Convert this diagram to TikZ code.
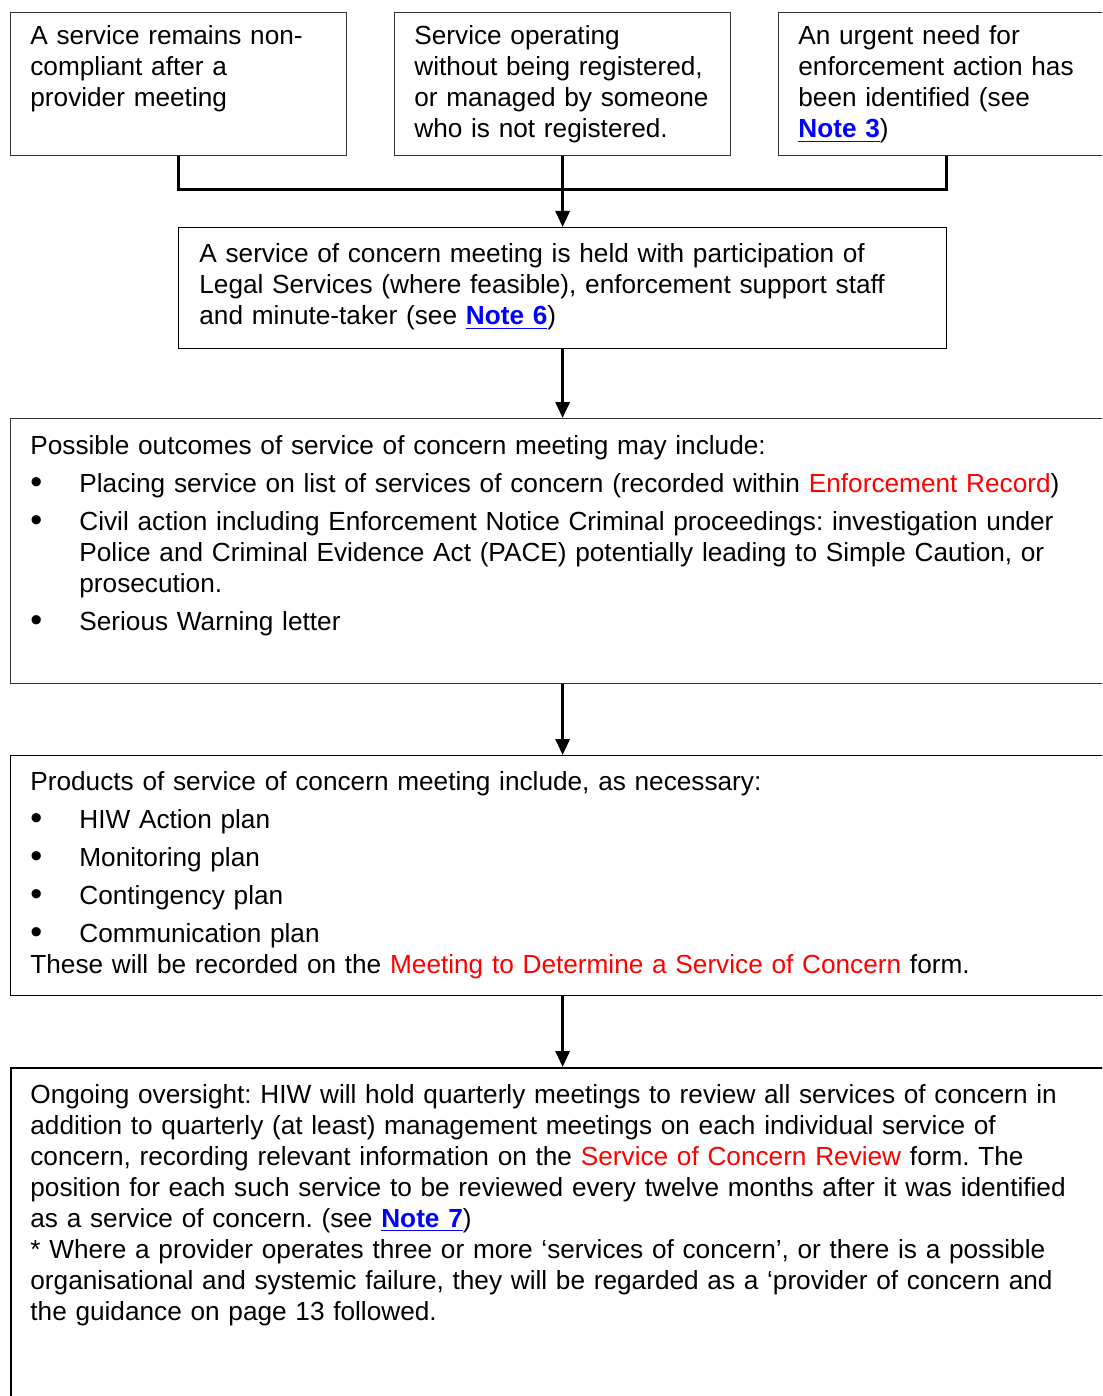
\documentclass[tikz,border=0pt]{standalone}
\usepackage{fontspec}
\setmainfont{Liberation Sans}
\usepackage{xcolor}
\usepackage{graphicx}
\usetikzlibrary{arrows.meta}

\definecolor{formred}{RGB}{255,0,0}
\definecolor{noteblue}{RGB}{0,0,255}
\newcommand{\notelink}[1]{\textcolor{noteblue}{\textbf{\underline{#1}}}}
\newcommand{\formname}[1]{\textcolor{formred}{#1}}
\newcommand{\bigbullet}{\raisebox{-0.6pt}{\scalebox{1.3}{\textbullet}}}
\newcommand{\outitem}{\par\vspace{3.5pt}\hangindent=24.5pt\hangafter=1\noindent\makebox[24.5pt][l]{\bigbullet}}

\begin{document}
\begin{tikzpicture}[x=0.5pt, y=-0.5pt,
    box/.style={draw=black!80, line width=0.6pt, anchor=north west, inner sep=0pt},
    boxtext/.style={anchor=base west, inner sep=0pt, text width=540pt, align=left,
      font=\fontsize{13.1}{15.5}\selectfont\frenchspacing},
    link/.style={line width=1.5pt},
    flow/.style={line width=1.5pt, -{Triangle[width=7pt,length=8pt]}}]
    \useasboundingbox (0,0) rectangle (1102,1396);
    \clip (0,0) rectangle (1102,1396);

    % Top row boxes
    \node[box, minimum width=168pt, minimum height=71.5pt] (noncomp) at (10,12) {};
    \node[box, minimum width=168pt, minimum height=71.5pt] (unreg) at (394,12) {};
    \node[box, minimum width=168pt, minimum height=71.5pt] (urgent) at (778,12) {};

    % Service of concern meeting and what follows
    \node[box, draw=black, minimum width=384pt, minimum height=60.5pt] (meeting) at (178,227) {};
    \node[box, minimum width=560pt, minimum height=132.5pt] (outcomes) at (10,418) {};
    \node[box, draw=black, minimum width=560pt, minimum height=120pt] (products) at (10,755) {};
    \node[box, draw=black, line width=1pt, minimum width=560pt, minimum height=180pt] (oversight) at (10,1067) {};

    % Connectors
    \coordinate (join) at (562,190);
    \draw[link] (noncomp.south) |- (join) -| (urgent.south);
    \draw[flow] (unreg.south) -- (meeting.north);
    \draw[flow] (meeting.south) -- (meeting.south |- outcomes.north);
    \draw[flow] (meeting.south |- outcomes.south) -- (meeting.south |- products.north);
    \draw[flow] (meeting.south |- products.south) -- (meeting.south |- oversight.north);

    % Texts
    \node[boxtext] (txtnoncomp) at (30,45) {A service remains non-\\compliant after a\\provider meeting};
    \node[boxtext] (txtunreg) at (414,45) {Service operating\\without being registered,\\or managed by someone\\who is not registered.};
    \node[boxtext] (txturgent) at (798,45) {An urgent need for\\enforcement action has\\been identified (see\\\notelink{Note 3})};
    \node[boxtext] (txtmeeting) at (199,263) {A service of concern meeting is held with participation of\\Legal Services (where feasible), enforcement support staff\\and minute-taker (see \notelink{Note 6})};
    \node[boxtext] (txtoutcomes) at (30,454) {Possible outcomes of service of concern meeting may include:
      \outitem Placing service on list of services of concern (recorded within \formname{Enforcement Record})
      \outitem Civil action including Enforcement Notice Criminal proceedings: investigation under\newline Police and Criminal Evidence Act (PACE) potentially leading to Simple Caution, or\newline prosecution.
      \outitem Serious Warning letter};
    \node[boxtext] (txtproducts) at (30,790) {Products of service of concern meeting include, as necessary:
      \outitem HIW Action plan
      \outitem Monitoring plan
      \outitem Contingency plan
      \outitem Communication plan
      \par\noindent These will be recorded on the \formname{Meeting to Determine a Service of Concern} form.};
    \node[boxtext] (txtoversight) at (30,1103) {Ongoing oversight: HIW will hold quarterly meetings to review all services of concern in\\addition to quarterly (at least) management meetings on each individual service of\\concern, recording relevant information on the \formname{Service of Concern Review} form. The\\position for each such service to be reviewed every twelve months after it was identified\\as a service of concern. (see \notelink{Note 7})\\{}* Where a provider operates three or more ‘services of concern’, or there is a possible\\organisational and systemic failure, they will be regarded as a ‘provider of concern and\\the guidance on page 13 followed.};
\end{tikzpicture}
\end{document}
